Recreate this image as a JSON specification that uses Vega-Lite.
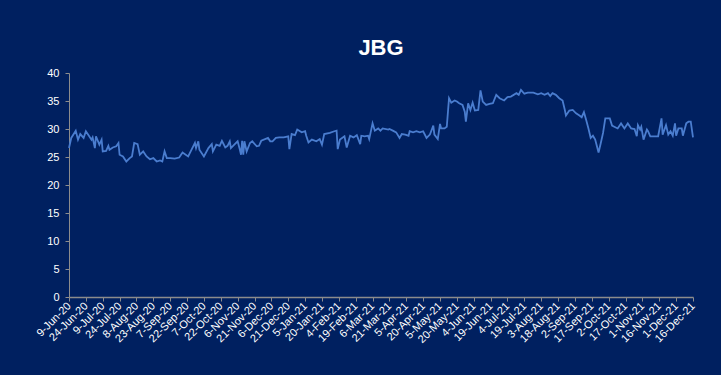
{
  "$schema": "https://vega.github.io/schema/vega-lite/v6.json",
  "autosize": "none",
  "width": 624,
  "height": 224,
  "padding": {"left": 69, "top": 73, "right": 28, "bottom": 78},
  "background": "#002060",
  "config": {
    "view": {"stroke": null},
    "font": "Liberation Sans"
  },
  "title": {
    "text": "JBG",
    "fontSize": 22,
    "fontWeight": "bold",
    "color": "#FFFFFF",
    "font": "Liberation Sans",
    "anchor": "middle",
    "frame": "group",
    "baseline": "alphabetic",
    "offset": -10
  },
  "data": {
    "values": [
      {"d": "2020-06-09", "v": 26.6}, {"d": "2020-06-11", "v": 28.4}, {"d": "2020-06-15", "v": 29.7},
      {"d": "2020-06-17", "v": 28.1}, {"d": "2020-06-19", "v": 29.1}, {"d": "2020-06-22", "v": 28.4},
      {"d": "2020-06-24", "v": 29.6}, {"d": "2020-06-27", "v": 28.7}, {"d": "2020-06-29", "v": 28.1},
      {"d": "2020-06-30", "v": 28.5}, {"d": "2020-07-02", "v": 26.6}, {"d": "2020-07-03", "v": 28.7},
      {"d": "2020-07-06", "v": 27.2}, {"d": "2020-07-08", "v": 28.1}, {"d": "2020-07-09", "v": 26.0},
      {"d": "2020-07-12", "v": 26.1}, {"d": "2020-07-14", "v": 27.0}, {"d": "2020-07-15", "v": 26.3},
      {"d": "2020-07-18", "v": 26.7}, {"d": "2020-07-21", "v": 26.9}, {"d": "2020-07-23", "v": 27.5},
      {"d": "2020-07-24", "v": 25.4}, {"d": "2020-07-27", "v": 25.1}, {"d": "2020-07-30", "v": 24.2},
      {"d": "2020-08-02", "v": 24.8}, {"d": "2020-08-04", "v": 25.1}, {"d": "2020-08-06", "v": 27.5},
      {"d": "2020-08-09", "v": 27.3}, {"d": "2020-08-11", "v": 25.4}, {"d": "2020-08-14", "v": 26.0},
      {"d": "2020-08-17", "v": 25.1}, {"d": "2020-08-20", "v": 24.6}, {"d": "2020-08-23", "v": 24.8},
      {"d": "2020-08-26", "v": 24.2}, {"d": "2020-08-29", "v": 24.4}, {"d": "2020-08-31", "v": 24.2},
      {"d": "2020-09-02", "v": 26.0}, {"d": "2020-09-04", "v": 24.8}, {"d": "2020-09-07", "v": 24.8},
      {"d": "2020-09-11", "v": 24.7}, {"d": "2020-09-15", "v": 24.9}, {"d": "2020-09-18", "v": 25.8},
      {"d": "2020-09-23", "v": 25.1}, {"d": "2020-09-26", "v": 26.3}, {"d": "2020-09-29", "v": 27.5},
      {"d": "2020-09-30", "v": 26.6}, {"d": "2020-10-02", "v": 27.8}, {"d": "2020-10-03", "v": 26.3},
      {"d": "2020-10-07", "v": 25.1}, {"d": "2020-10-11", "v": 26.6}, {"d": "2020-10-14", "v": 27.3},
      {"d": "2020-10-15", "v": 26.0}, {"d": "2020-10-18", "v": 27.2}, {"d": "2020-10-21", "v": 27.0},
      {"d": "2020-10-23", "v": 27.9}, {"d": "2020-10-26", "v": 26.7}, {"d": "2020-10-28", "v": 27.0},
      {"d": "2020-10-30", "v": 27.8}, {"d": "2020-10-31", "v": 26.6}, {"d": "2020-11-03", "v": 27.2},
      {"d": "2020-11-06", "v": 27.8}, {"d": "2020-11-08", "v": 26.3}, {"d": "2020-11-09", "v": 25.4},
      {"d": "2020-11-10", "v": 27.9}, {"d": "2020-11-11", "v": 25.4}, {"d": "2020-11-12", "v": 27.8},
      {"d": "2020-11-14", "v": 26.0}, {"d": "2020-11-17", "v": 27.5}, {"d": "2020-11-19", "v": 27.8},
      {"d": "2020-11-23", "v": 26.9}, {"d": "2020-11-25", "v": 27.0}, {"d": "2020-11-27", "v": 27.9},
      {"d": "2020-12-03", "v": 28.4}, {"d": "2020-12-05", "v": 27.8}, {"d": "2020-12-07", "v": 27.8},
      {"d": "2020-12-10", "v": 28.4}, {"d": "2020-12-13", "v": 28.5}, {"d": "2020-12-17", "v": 28.5},
      {"d": "2020-12-21", "v": 28.7}, {"d": "2020-12-22", "v": 26.4}, {"d": "2020-12-24", "v": 29.1},
      {"d": "2020-12-27", "v": 28.9}, {"d": "2020-12-29", "v": 29.9}, {"d": "2021-01-02", "v": 29.4},
      {"d": "2021-01-05", "v": 29.6}, {"d": "2021-01-06", "v": 28.8}, {"d": "2021-01-08", "v": 27.6},
      {"d": "2021-01-11", "v": 28.1}, {"d": "2021-01-15", "v": 27.8}, {"d": "2021-01-18", "v": 28.2},
      {"d": "2021-01-20", "v": 27.2}, {"d": "2021-01-22", "v": 29.1}, {"d": "2021-01-27", "v": 29.3},
      {"d": "2021-01-31", "v": 29.6}, {"d": "2021-02-02", "v": 29.7}, {"d": "2021-02-03", "v": 26.4},
      {"d": "2021-02-05", "v": 28.1}, {"d": "2021-02-09", "v": 28.7}, {"d": "2021-02-11", "v": 26.7},
      {"d": "2021-02-14", "v": 28.8}, {"d": "2021-02-17", "v": 28.5}, {"d": "2021-02-20", "v": 28.9},
      {"d": "2021-02-23", "v": 27.3}, {"d": "2021-02-24", "v": 28.8}, {"d": "2021-02-27", "v": 28.7},
      {"d": "2021-03-02", "v": 28.8}, {"d": "2021-03-03", "v": 28.2}, {"d": "2021-03-06", "v": 31.0},
      {"d": "2021-03-08", "v": 29.7}, {"d": "2021-03-11", "v": 30.1}, {"d": "2021-03-13", "v": 29.7},
      {"d": "2021-03-15", "v": 30.1}, {"d": "2021-03-20", "v": 29.9}, {"d": "2021-03-21", "v": 30.0},
      {"d": "2021-03-24", "v": 29.7}, {"d": "2021-03-27", "v": 29.4}, {"d": "2021-03-30", "v": 28.4},
      {"d": "2021-04-01", "v": 29.1}, {"d": "2021-04-04", "v": 29.0}, {"d": "2021-04-07", "v": 28.8},
      {"d": "2021-04-08", "v": 29.6}, {"d": "2021-04-11", "v": 29.4}, {"d": "2021-04-14", "v": 29.6},
      {"d": "2021-04-17", "v": 29.4}, {"d": "2021-04-20", "v": 29.6}, {"d": "2021-04-23", "v": 28.4},
      {"d": "2021-04-26", "v": 29.0}, {"d": "2021-04-29", "v": 30.6}, {"d": "2021-04-30", "v": 29.0},
      {"d": "2021-05-03", "v": 28.2}, {"d": "2021-05-05", "v": 30.9}, {"d": "2021-05-06", "v": 30.1},
      {"d": "2021-05-09", "v": 30.1}, {"d": "2021-05-11", "v": 30.4}, {"d": "2021-05-13", "v": 35.5},
      {"d": "2021-05-15", "v": 34.7}, {"d": "2021-05-18", "v": 35.1}, {"d": "2021-05-20", "v": 34.9},
      {"d": "2021-05-22", "v": 34.6}, {"d": "2021-05-25", "v": 34.3}, {"d": "2021-05-27", "v": 33.1},
      {"d": "2021-05-28", "v": 31.3}, {"d": "2021-05-30", "v": 34.6}, {"d": "2021-06-01", "v": 33.4},
      {"d": "2021-06-03", "v": 34.7}, {"d": "2021-06-05", "v": 33.3}, {"d": "2021-06-08", "v": 33.4},
      {"d": "2021-06-10", "v": 36.9}, {"d": "2021-06-12", "v": 34.9}, {"d": "2021-06-15", "v": 34.3},
      {"d": "2021-06-18", "v": 34.5}, {"d": "2021-06-21", "v": 34.6}, {"d": "2021-06-24", "v": 36.1},
      {"d": "2021-06-27", "v": 35.5}, {"d": "2021-07-01", "v": 35.1}, {"d": "2021-07-04", "v": 35.7},
      {"d": "2021-07-07", "v": 35.8}, {"d": "2021-07-12", "v": 36.4}, {"d": "2021-07-14", "v": 36.1},
      {"d": "2021-07-16", "v": 37.0}, {"d": "2021-07-19", "v": 36.3}, {"d": "2021-07-22", "v": 36.5},
      {"d": "2021-07-27", "v": 36.5}, {"d": "2021-07-31", "v": 36.2}, {"d": "2021-08-03", "v": 36.4},
      {"d": "2021-08-06", "v": 36.1}, {"d": "2021-08-09", "v": 36.4}, {"d": "2021-08-11", "v": 35.9},
      {"d": "2021-08-13", "v": 36.4}, {"d": "2021-08-16", "v": 36.1}, {"d": "2021-08-19", "v": 35.5},
      {"d": "2021-08-22", "v": 35.1}, {"d": "2021-08-24", "v": 33.4}, {"d": "2021-08-25", "v": 32.4},
      {"d": "2021-08-28", "v": 33.3}, {"d": "2021-08-31", "v": 33.4}, {"d": "2021-09-03", "v": 32.8},
      {"d": "2021-09-06", "v": 32.4}, {"d": "2021-09-08", "v": 32.1}, {"d": "2021-09-10", "v": 33.0},
      {"d": "2021-09-12", "v": 31.6}, {"d": "2021-09-14", "v": 30.1}, {"d": "2021-09-16", "v": 28.4},
      {"d": "2021-09-18", "v": 28.8}, {"d": "2021-09-20", "v": 28.1}, {"d": "2021-09-23", "v": 25.8},
      {"d": "2021-09-25", "v": 27.5}, {"d": "2021-09-27", "v": 29.3}, {"d": "2021-09-29", "v": 31.9},
      {"d": "2021-10-03", "v": 31.9}, {"d": "2021-10-05", "v": 30.6}, {"d": "2021-10-07", "v": 30.4},
      {"d": "2021-10-10", "v": 30.1}, {"d": "2021-10-13", "v": 31.0}, {"d": "2021-10-16", "v": 30.1},
      {"d": "2021-10-19", "v": 31.0}, {"d": "2021-10-22", "v": 30.1}, {"d": "2021-10-25", "v": 30.0},
      {"d": "2021-10-27", "v": 28.7}, {"d": "2021-10-28", "v": 30.7}, {"d": "2021-10-30", "v": 29.9},
      {"d": "2021-10-31", "v": 30.4}, {"d": "2021-11-02", "v": 28.1}, {"d": "2021-11-05", "v": 29.9},
      {"d": "2021-11-06", "v": 29.6}, {"d": "2021-11-08", "v": 28.7}, {"d": "2021-11-11", "v": 28.7},
      {"d": "2021-11-15", "v": 28.7}, {"d": "2021-11-18", "v": 31.9}, {"d": "2021-11-19", "v": 29.0},
      {"d": "2021-11-22", "v": 30.7}, {"d": "2021-11-24", "v": 29.0}, {"d": "2021-11-26", "v": 29.6},
      {"d": "2021-11-28", "v": 28.8}, {"d": "2021-11-30", "v": 31.0}, {"d": "2021-12-01", "v": 28.8},
      {"d": "2021-12-03", "v": 30.1}, {"d": "2021-12-06", "v": 30.1}, {"d": "2021-12-07", "v": 28.8},
      {"d": "2021-12-10", "v": 31.0}, {"d": "2021-12-12", "v": 31.3}, {"d": "2021-12-14", "v": 31.3},
      {"d": "2021-12-16", "v": 28.5}
    ]
  },
  "mark": {"type": "line", "color": "#4A7DCF", "strokeWidth": 1.8},
  "encoding": {
    "x": {
      "field": "d",
      "type": "temporal",
      "title": null,
      "scale": {
        "type": "utc",
        "nice": false,
        "domain": [
          {"year": 2020, "month": 6, "date": 9, "utc": true},
          {"year": 2021, "month": 12, "date": 16, "utc": true}
        ]
      },
      "axis": {
        "format": "%-d-%b-%y",
        "values": [
          {"year": 2020, "month": 6, "date": 9, "utc": true},
          {"year": 2020, "month": 6, "date": 24, "utc": true},
          {"year": 2020, "month": 7, "date": 9, "utc": true},
          {"year": 2020, "month": 7, "date": 24, "utc": true},
          {"year": 2020, "month": 8, "date": 8, "utc": true},
          {"year": 2020, "month": 8, "date": 23, "utc": true},
          {"year": 2020, "month": 9, "date": 7, "utc": true},
          {"year": 2020, "month": 9, "date": 22, "utc": true},
          {"year": 2020, "month": 10, "date": 7, "utc": true},
          {"year": 2020, "month": 10, "date": 22, "utc": true},
          {"year": 2020, "month": 11, "date": 6, "utc": true},
          {"year": 2020, "month": 11, "date": 21, "utc": true},
          {"year": 2020, "month": 12, "date": 6, "utc": true},
          {"year": 2020, "month": 12, "date": 21, "utc": true},
          {"year": 2021, "month": 1, "date": 5, "utc": true},
          {"year": 2021, "month": 1, "date": 20, "utc": true},
          {"year": 2021, "month": 2, "date": 4, "utc": true},
          {"year": 2021, "month": 2, "date": 19, "utc": true},
          {"year": 2021, "month": 3, "date": 6, "utc": true},
          {"year": 2021, "month": 3, "date": 21, "utc": true},
          {"year": 2021, "month": 4, "date": 5, "utc": true},
          {"year": 2021, "month": 4, "date": 20, "utc": true},
          {"year": 2021, "month": 5, "date": 5, "utc": true},
          {"year": 2021, "month": 5, "date": 20, "utc": true},
          {"year": 2021, "month": 6, "date": 4, "utc": true},
          {"year": 2021, "month": 6, "date": 19, "utc": true},
          {"year": 2021, "month": 7, "date": 4, "utc": true},
          {"year": 2021, "month": 7, "date": 19, "utc": true},
          {"year": 2021, "month": 8, "date": 3, "utc": true},
          {"year": 2021, "month": 8, "date": 18, "utc": true},
          {"year": 2021, "month": 9, "date": 2, "utc": true},
          {"year": 2021, "month": 9, "date": 17, "utc": true},
          {"year": 2021, "month": 10, "date": 2, "utc": true},
          {"year": 2021, "month": 10, "date": 17, "utc": true},
          {"year": 2021, "month": 11, "date": 1, "utc": true},
          {"year": 2021, "month": 11, "date": 16, "utc": true},
          {"year": 2021, "month": 12, "date": 1, "utc": true},
          {"year": 2021, "month": 12, "date": 16, "utc": true}
        ],
        "labelAngle": -45,
        "labelAlign": "right",
        "labelBaseline": "middle",
        "labelPadding": 3,
        "labelFontSize": 11,
        "labelColor": "#FFFFFF",
        "labelFont": "Liberation Sans",
        "labelOverlap": false,
        "labelBound": false,
        "labelFlush": false,
        "grid": false,
        "domainColor": "#8C8C8C",
        "domainWidth": 1.5,
        "tickColor": "#8C8C8C",
        "tickSize": 4,
        "tickWidth": 1
      }
    },
    "y": {
      "field": "v",
      "type": "quantitative",
      "title": null,
      "scale": {"domain": [0, 40], "nice": false, "zero": true},
      "axis": {
        "values": [0, 5, 10, 15, 20, 25, 30, 35, 40],
        "labelFontSize": 11,
        "labelColor": "#FFFFFF",
        "labelFont": "Liberation Sans",
        "labelPadding": 6,
        "grid": false,
        "domainColor": "#8C8C8C",
        "domainWidth": 1,
        "tickColor": "#8C8C8C",
        "tickSize": 4,
        "tickWidth": 1
      }
    }
  }
}
